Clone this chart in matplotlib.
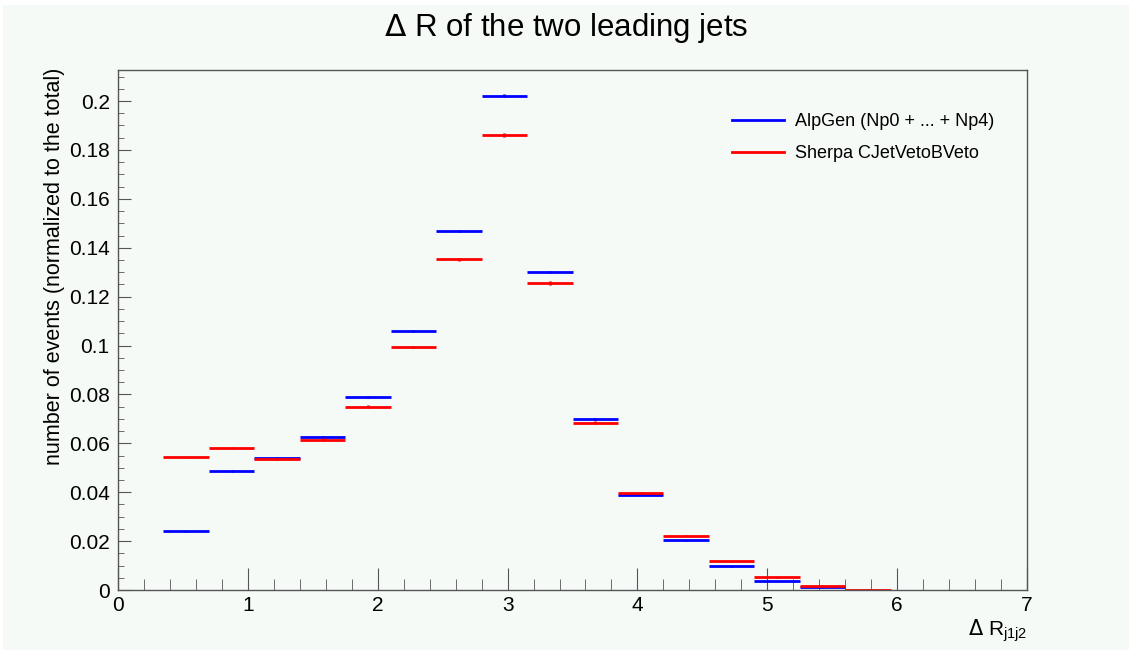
import matplotlib
matplotlib.use("Agg")
import matplotlib.pyplot as plt
from matplotlib.ticker import MultipleLocator
from matplotlib.lines import Line2D
import numpy as np

plt.rcParams['font.family'] = ['Liberation Sans', 'DejaVu Sans']

# bin edges (width 0.35)
bin_lo = [0.35, 0.70, 1.05, 1.40, 1.75, 2.10, 2.45, 2.80, 3.15, 3.50, 3.85, 4.20, 4.55, 4.90, 5.25, 5.60]
bin_width = 0.35

alpgen = [0.0241, 0.0487, 0.0540, 0.0626, 0.0789, 0.1059, 0.1468, 0.2022, 0.1302, 0.0700,
          0.0389, 0.0204, 0.0097, 0.0037, 0.0011, 0.0]
sherpa = [0.0542, 0.0580, 0.0534, 0.0615, 0.0750, 0.0994, 0.1352, 0.1862, 0.1255, 0.0685,
          0.0398, 0.0222, 0.0118, 0.0053, 0.0018, 0.0002]
sherpa_err = [0.0004, 0.0004, 0.0004, 0.0005, 0.0005, 0.0006, 0.0007, 0.0009, 0.0007, 0.0005,
              0.0004, 0.0003, 0.0002, 0.0002, 0.0001, 0.0001]
alpgen_err = [0.0002, 0.0003, 0.0003, 0.0003, 0.0003, 0.0004, 0.0004, 0.0005, 0.0004, 0.0003,
              0.0002, 0.0002, 0.0001, 0.0001, 0.0001, 0.0]
labels = ['AlpGen (Np0 + ... + Np4)', 'Sherpa CJetVetoBVeto']

bg = '#f5faf7'
x = np.array(bin_lo) + bin_width / 2

fig = plt.figure(figsize=(11.32, 6.53), dpi=100, facecolor='white')
fig.patches.append(plt.Rectangle((0.003, 0.004), 0.994, 0.988, transform=fig.transFigure,
                                 facecolor=bg, edgecolor='none', zorder=-10))
ax = fig.add_axes([118 / 1132, 1 - 590 / 653, (1027 - 118) / 1132, (590 - 70) / 653])
ax.set_facecolor(bg)

nz = np.array(alpgen) > 0
ax.errorbar(x[nz], np.array(alpgen)[nz], xerr=bin_width / 2, yerr=np.array(alpgen_err)[nz],
            fmt='none', ecolor='#0000ff', elinewidth=2, capsize=0)
ax.errorbar(x, sherpa, xerr=bin_width / 2, yerr=sherpa_err,
            fmt='none', ecolor='#ff0000', elinewidth=2, capsize=0)

ax.set_xlim(0, 7)
ax.set_ylim(0, 0.2127)
ax.xaxis.set_major_locator(MultipleLocator(1))
ax.xaxis.set_minor_locator(MultipleLocator(0.2))
ax.yaxis.set_minor_locator(MultipleLocator(0.005))
ax.set_yticks([0, 0.02, 0.04, 0.06, 0.08, 0.1, 0.12, 0.14, 0.16, 0.18, 0.2])
ax.set_yticklabels(['0', '0.02', '0.04', '0.06', '0.08', '0.1', '0.12', '0.14', '0.16', '0.18', '0.2'])
ax.tick_params(axis='both', which='both', direction='in', color='#555555', labelsize=15)
ax.tick_params(axis='y', which='major', length=9, pad=6)
ax.tick_params(axis='y', which='minor', length=4.5)
ax.tick_params(axis='x', which='major', length=16, pad=4)
ax.tick_params(axis='x', which='minor', length=8)
for s in ax.spines.values():
    s.set_color('#555555')
    s.set_linewidth(1)

fig.text(0.5, 1 - 28 / 653, r'$\Delta$ R of the two leading jets', ha='center', va='center', fontsize=22.5)
ax.text(1.0, -0.052, r'$\Delta$ R$_{\mathregular{j1j2}}$', transform=ax.transAxes, ha='right', va='top', fontsize=15)
fig.text(55 / 1132, 1 - 68 / 653, 'number of events (normalized to the total)', rotation=90,
         ha='center', va='top', fontsize=15.5)

handles = [Line2D([], [], color='#0000ff', lw=2), Line2D([], [], color='#ff0000', lw=2)]
ax.legend(handles, labels, loc='upper left', bbox_to_anchor=((732 - 118) / 909, (590 - 113) / 520),
          frameon=False, fontsize=13, handlelength=2.9, handletextpad=0.6, labelspacing=0.85,
          borderpad=0, borderaxespad=0)

plt.savefig('out.png', dpi=100, facecolor='white')
